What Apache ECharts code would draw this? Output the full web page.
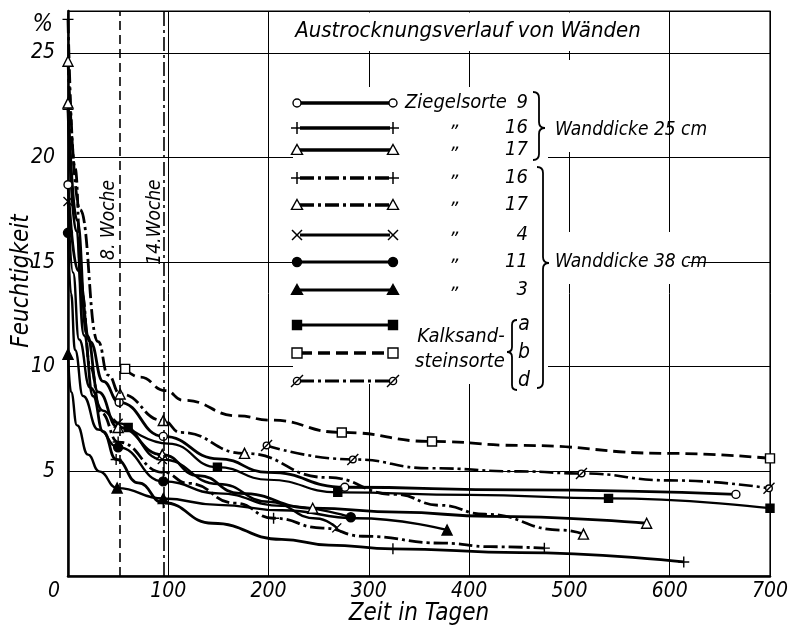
<!DOCTYPE html>
<html>
<head>
<meta charset="utf-8">
<script src="https://cdn.jsdelivr.net/npm/echarts@6/dist/echarts.min.js"></script>
<style>html,body{margin:0;background:#fff}#main{width:792px;height:630px}</style>
</head>
<body>
<div id="main"></div>
<script>
// Austrocknungsverlauf von Wänden - Feuchtigkeit (%) über Zeit (Tage)

var yTicks = [5, 10, 15, 20, 25];
var weekLines = [52, 95];   // 8. und 14. Woche (so im Bild eingezeichnet)

// Kurven [Tage, %]; *M = Index der Messpunkte mit Zeichen
// Ziegelsorte 9, Wanddicke 25 cm
var z9w25 = [[0,18.7],[10,14.6],[22,11.2],[35,9.3],[51,8.3],[95,6.67],[150,5.6],[200,4.95],[276,4.24],[450,4.12],[666,3.9]];
var z9w25M = [0,4,5,8,10];
// Ziegelsorte 16, Wanddicke 25 cm
var z16w25 = [[0,22.3],[8,16.5],[16,11.5],[25,8.6],[35,6.9],[48,5.57],[70,4.45],[95,3.5],[144,2.52],[213,1.75],[260,1.48],[324,1.3],[451,1.12],[614,0.67]];
var z16w25M = [0,5,7,11,13];
// Ziegelsorte 17, Wanddicke 25 cm
var z17w25 = [[0,22.6],[9,17],[19,11.5],[30,8.8],[50,7.1],[94,5.8],[130,4.8],[171,3.95],[244,3.24],[330,3.05],[420,2.85],[577,2.52]];
var z17w25M = [0,4,5,8,11];
// Ziegelsorte 16, Wanddicke 38 cm
var z16w38 = [[0,26.6],[7,19.5],[14,13.5],[22,10],[33,7.8],[50,6.4],[95,4.95],[120,4.43],[167,3.48],[205,2.76],[254,2.29],[294,1.9],[374,1.57],[421,1.4],[475,1.33]];
var z16w38M = [0,5,6,9,14];
// Ziegelsorte 17, Wanddicke 38 cm
var z17w38 = [[0,24.6],[12,17.5],[30,11.2],[40,9.6],[52,8.7],[95,7.43],[112,6.86],[176,5.86],[258,4.71],[326,3.9],[371,3.38],[416,2.95],[493,2.19],[514,2.0]];
var z17w38M = [0,4,5,7,13];
// Ziegelsorte 4, Wanddicke 38 cm
var z4w38 = [[0,17.9],[5,14.5],[11,11.3],[22,9],[35,7.9],[50,7.3],[94,5.57],[150,4.4],[200,3.55],[248,2.75],[268,2.3]];
var z4w38M = [0,5,6,10];
// Ziegelsorte 11, Wanddicke 38 cm
var z11w38 = [[0,16.4],[3,13.5],[7,10.8],[15,8.6],[30,7],[50,6.15],[95,4.52],[150,3.95],[213,3.35],[282,2.81]];
var z11w38M = [0,5,6,9];
// Ziegelsorte 3, Wanddicke 38 cm
var z3w38 = [[0,10.6],[3,8.8],[9,7.2],[20,5.8],[31,5.0],[49,4.2],[95,3.7],[150,3.4],[213,3.14],[288,2.76],[378,2.2]];
var z3w38M = [0,5,6,10];
// Kalksandsteinsorte a, b, d
var ksA = [[60,7.1],[100,6.33],[149,5.2],[200,4.6],[269,4.0],[400,3.88],[539,3.71],[700,3.24]];
var ksAM = [0,2,4,6,7];
var ksB = [[57,9.9],[72,9.5],[97,8.86],[115,8.4],[170,7.65],[201,7.45],[273,6.86],[363,6.43],[450,6.24],[600,5.86],[700,5.62]];
var ksBM = [0,6,7,10];
var ksD = [[198,6.24],[284,5.57],[361,5.15],[451,5.0],[512,4.9],[600,4.57],[699,4.19]];
var ksDM = [0,1,4,6];

var FONT = '"Liberation Sans Narrow","DejaVu Sans Condensed",sans-serif';
function f(size) { return 'italic ' + size + 'px ' + FONT; }

var SYM = {
  circle: 'M0,5A5,5,0,1,1,10,5A5,5,0,1,1,0,5Z',
  tri: 'M5,0L10,9H0Z',
  rect: 'M0,0H10V10H0Z',
  plus: 'M5,0V10M0,5H10',
  cross: 'M0,0L10,10M10,0L0,10',
  slash: 'M2,5A3,3,0,1,1,8,5A3,3,0,1,1,2,5ZM0,10L10,0'
};
var DASHDOT = [14, 4, 3, 4];

var curves = [
  {name:'Ziegelsorte 9 (25 cm)',  pts:z9w25,  m:z9w25M,  sym:'circle', size:8,  fill:'#fff', dash:'solid', w:2.8},
  {name:'Ziegelsorte 16 (25 cm)', pts:z16w25, m:z16w25M, sym:'plus',   size:11, fill:'#000', dash:'solid', w:2.8},
  {name:'Ziegelsorte 17 (25 cm)', pts:z17w25, m:z17w25M, sym:'tri',    size:10, fill:'#fff', dash:'solid', w:2.8},
  {name:'Ziegelsorte 16 (38 cm)', pts:z16w38, m:z16w38M, sym:'plus',   size:11, fill:'#000', dash:DASHDOT, w:2.8},
  {name:'Ziegelsorte 17 (38 cm)', pts:z17w38, m:z17w38M, sym:'tri',    size:10, fill:'#fff', dash:DASHDOT, w:2.8},
  {name:'Ziegelsorte 4 (38 cm)',  pts:z4w38,  m:z4w38M,  sym:'cross',  size:9,  fill:'#000', dash:'solid', w:2.4},
  {name:'Ziegelsorte 11 (38 cm)', pts:z11w38, m:z11w38M, sym:'circle', size:9,  fill:'#000', dash:'solid', w:2.4},
  {name:'Ziegelsorte 3 (38 cm)',  pts:z3w38,  m:z3w38M,  sym:'tri',    size:10, fill:'#000', dash:'solid', w:2.4},
  {name:'Kalksandstein a',        pts:ksA,    m:ksAM,    sym:'rect',   size:8,  fill:'#000', dash:'solid', w:2.2},
  {name:'Kalksandstein b',        pts:ksB,    m:ksBM,    sym:'rect',   size:9,  fill:'#fff', dash:[12, 6], w:2.8},
  {name:'Kalksandstein d',        pts:ksD,    m:ksDM,    sym:'slash',  size:11, fill:'#fff', dash:DASHDOT, w:2.6}
];

var series = curves.map(function (c, k) {
  var s = {
    type: 'line', name: c.name, smooth: 0.5, smoothMonotone: 'x', clip: false, z: 3,
    symbol: 'path://' + SYM[c.sym], symbolSize: c.size, showSymbol: true,
    lineStyle: {color: '#000', width: c.w, type: c.dash},
    itemStyle: {color: c.fill, borderColor: '#000', borderWidth: 1.4},
    emphasis: {disabled: true},
    data: c.pts.map(function (p, i) {
      return c.m.indexOf(i) >= 0 ? {value: p} : {value: p, symbol: 'none'};
    })
  };
  if (k === 0) {
    s.markLine = {
      silent: true, symbol: 'none', label: {show: false},
      lineStyle: {color: '#000', width: 1.6},
      data: [
        {xAxis: weekLines[0], lineStyle: {type: [9, 5]}},
        {xAxis: weekLines[1], lineStyle: {type: [14, 4, 3, 4]}}
      ]
    };
  }
  return s;
});

// Legende (von Hand, wie im Original)
var legendY = [103, 128, 150, 178, 205, 235, 262, 290, 325, 353, 381];
var legendNum = ['9', '16', '17', '16', '17', '4', '11', '3'];
var legendKs = ['a', 'b', 'd'];

var g = [
  {type:'rect', z:1, shape:{x:293, y:87, width:255, height:297}, style:{fill:'#fff'}},
  {type:'rect', z:1, shape:{x:548, y:60, width:112, height:92}, style:{fill:'#fff'}},
  {type:'rect', z:1, shape:{x:548, y:232, width:140, height:52}, style:{fill:'#fff'}},
  {type:'rect', z:1, shape:{x:293, y:12.5, width:352, height:38.5}, style:{fill:'#fff'}},
  {type:'text', z:20, x:468, y:31, style:{text:'Austrocknungsverlauf von Wänden', font:f(22), fill:'#000', align:'center', verticalAlign:'middle'}},
  {type:'text', z:20, x:53, y:25, style:{text:'%', font:f(24), fill:'#000', align:'right', verticalAlign:'middle'}},
  {type:'text', z:20, x:22, y:281, rotation:Math.PI/2, style:{text:'Feuchtigkeit', font:f(24), fill:'#000', align:'center', verticalAlign:'middle'}},
  {type:'text', z:20, x:109, y:220, rotation:Math.PI/2, style:{text:'8. Woche', font:f(19), fill:'#000', align:'center', verticalAlign:'middle'}},
  {type:'text', z:20, x:155, y:222, rotation:Math.PI/2, style:{text:'14.Woche', font:f(19), fill:'#000', align:'center', verticalAlign:'middle'}},
  {type:'text', z:20, x:405, y:103, style:{text:'Ziegelsorte', font:f(20), fill:'#000', align:'left', verticalAlign:'middle'}},
  {type:'text', z:20, x:461, y:337, style:{text:'Kalksand-', font:f(20), fill:'#000', align:'center', verticalAlign:'middle'}},
  {type:'text', z:20, x:460, y:362, style:{text:'steinsorte', font:f(20), fill:'#000', align:'center', verticalAlign:'middle'}},
  {type:'text', z:20, x:555, y:130, style:{text:'Wanddicke 25 cm', font:f(19), fill:'#000', align:'left', verticalAlign:'middle'}},
  {type:'text', z:20, x:555, y:262, style:{text:'Wanddicke 38 cm', font:f(19), fill:'#000', align:'left', verticalAlign:'middle'}}
];

var BR = {fill:'none', stroke:'#000', lineWidth:1.8};
// geschweifte Klammer, w > 0: "}", w < 0: "{"
function brace(x, y1, ym, y2, w) {
  var x1 = x + w, xt = x + 2 * w, a = Math.abs(w);
  return [
    {type:'bezierCurve', z:20, shape:{x1:x, y1:y1, cpx1:x1, cpy1:y1, x2:x1, y2:y1 + a}, style:BR},
    {type:'line', z:20, shape:{x1:x1, y1:y1 + a, x2:x1, y2:ym - a}, style:BR},
    {type:'bezierCurve', z:20, shape:{x1:x1, y1:ym - a, cpx1:x1, cpy1:ym, x2:xt, y2:ym}, style:BR},
    {type:'bezierCurve', z:20, shape:{x1:xt, y1:ym, cpx1:x1, cpy1:ym, x2:x1, y2:ym + a}, style:BR},
    {type:'line', z:20, shape:{x1:x1, y1:ym + a, x2:x1, y2:y2 - a}, style:BR},
    {type:'bezierCurve', z:20, shape:{x1:x1, y1:y2 - a, cpx1:x1, cpy1:y2, x2:x, y2:y2}, style:BR}
  ];
}
g = g.concat(brace(533, 92, 128, 160, 6), brace(537, 167, 263, 388, 6), brace(517, 320, 352, 390, -5));

// Zeichen der Legende aus Grundformen
function mark(c, x, y) {
  var r = (c.size + 1) / 2;
  var st = {fill:c.fill, stroke:'#000', lineWidth:1.4};
  var ln = {stroke:'#000', lineWidth:1.5};
  switch (c.sym) {
    case 'circle': return [{type:'circle', z:21, shape:{cx:x, cy:y, r:r - 0.5}, style:st}];
    case 'tri': return [{type:'polygon', z:21, shape:{points:[[x, y - r], [x + r, y + r * 0.8], [x - r, y + r * 0.8]]}, style:st}];
    case 'rect': return [{type:'rect', z:21, shape:{x:x - r, y:y - r, width:2 * r, height:2 * r}, style:st}];
    case 'plus': return [
      {type:'line', z:21, shape:{x1:x - r, y1:y, x2:x + r, y2:y}, style:ln},
      {type:'line', z:21, shape:{x1:x, y1:y - r, x2:x, y2:y + r}, style:ln}];
    case 'cross': return [
      {type:'line', z:21, shape:{x1:x - r, y1:y - r, x2:x + r, y2:y + r}, style:ln},
      {type:'line', z:21, shape:{x1:x - r, y1:y + r, x2:x + r, y2:y - r}, style:ln}];
    default: return [
      {type:'circle', z:21, shape:{cx:x, cy:y, r:r * 0.6}, style:st},
      {type:'line', z:21, shape:{x1:x - r, y1:y + r, x2:x + r, y2:y - r}, style:ln}];
  }
}

curves.forEach(function (c, i) {
  var y = legendY[i];
  g.push({type:'line', z:20, shape:{x1:300, y1:y, x2:390, y2:y},
    style:{stroke:'#000', lineWidth:c.w + 0.6, lineDash:c.dash === 'solid' ? null : c.dash}});
  g = g.concat(mark(c, 297, y), mark(c, 393, y));
  if (i < legendNum.length) {
    g.push({type:'text', z:20, x:528, y:y, style:{text:legendNum[i], font:f(20), fill:'#000', align:'right', verticalAlign:'middle'}});
    if (i > 0) {
      g.push({type:'text', z:20, x:456, y:y - 6, style:{text:'\u201E', font:f(20), fill:'#000', align:'center', verticalAlign:'middle'}});
    }
  } else {
    g.push({type:'text', z:20, x:524, y:y, style:{text:legendKs[i - legendNum.length], font:f(21), fill:'#000', align:'center', verticalAlign:'middle'}});
  }
});

var labelFont = {color:'#000', fontFamily:FONT, fontStyle:'italic', fontSize:21};

var option = {
  animation: false,
  backgroundColor: '#fff',
  grid: {left:68, right:22, top:11, bottom:54, containLabel:false, outerBoundsMode:'none',
    show:true, borderColor:'#000', borderWidth:1.2},
  xAxis: {
    type:'value', min:0, max:700, interval:100,
    axisLine:{show:true, onZero:false, lineStyle:{color:'#000', width:2.5}},
    axisTick:{show:false},
    splitLine:{show:true, lineStyle:{color:'#000', width:1}},
    axisLabel:Object.assign({margin:5, formatter:function (v) { return v === 0 ? '{z|0}' : String(v); },
      rich:{z:Object.assign({padding:[0, 28, 0, 0]}, labelFont)}}, labelFont),
    name:'Zeit in Tagen', nameLocation:'middle', nameGap:26, nameMoveOverlap:false,
    nameTextStyle:{color:'#000', fontFamily:FONT, fontStyle:'italic', fontSize:24}
  },
  yAxis: {
    type:'value', min:0, max:27, interval:5,
    axisLine:{show:true, onZero:false, lineStyle:{color:'#000', width:2.5}},
    axisTick:{show:false},
    splitLine:{show:true, lineStyle:{color:'#000', width:1}},
    axisLabel:Object.assign({margin:13, formatter:function (v) { return yTicks.indexOf(v) >= 0 ? String(v) : ''; }}, labelFont)
  },
  graphic: {elements: g},
  series: series
};

var chart = echarts.init(document.getElementById('main'));
chart.setOption(option);
</script>
</body>
</html>
